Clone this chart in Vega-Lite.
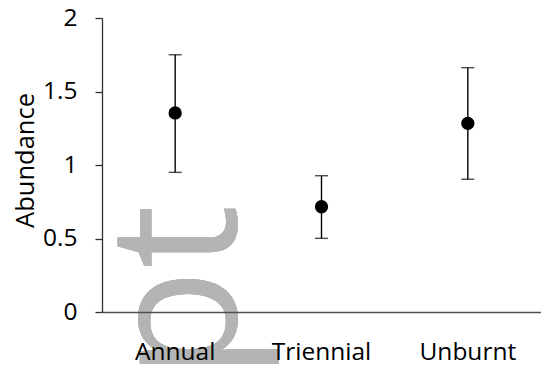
{
  "$schema": "https://vega.github.io/schema/vega-lite/v6.json",
  "autosize": {"type": "none"},
  "width": 439,
  "height": 294,
  "padding": {"left": 102, "top": 18, "right": 0, "bottom": 57},
  "background": "white",
  "config": {
    "view": {"stroke": null},
    "font": "Open Sans",
    "axisX": {
      "domainColor": "#505050",
      "domainWidth": 1.4,
      "ticks": false,
      "tickSize": 0,
      "labelPadding": 28,
      "labelFontSize": 24.5,
      "labelColor": "#000000",
      "labelAngle": 0,
      "labelFont": "Open Sans",
      "grid": false
    },
    "axisY": {
      "domainColor": "#303030",
      "domainWidth": 1.3,
      "tickColor": "#303030",
      "tickWidth": 1.3,
      "tickSize": 7,
      "labelPadding": 18,
      "labelFontSize": 24.5,
      "labelColor": "#000000",
      "labelFont": "Open Sans",
      "titleFont": "Open Sans",
      "titleFontSize": 25.5,
      "titleFontWeight": "normal",
      "titleColor": "#000000",
      "titleAngle": 270,
      "titleBaseline": "alphabetic",
      "titleX": -69,
      "titleY": 142,
      "grid": false
    }
  },
  "data": {
    "values": [
      {"site": "Annual", "mean": 1.354, "lo": 0.95, "hi": 1.75},
      {"site": "Triennial", "mean": 0.716, "lo": 0.501, "hi": 0.927},
      {"site": "Unburnt", "mean": 1.283, "lo": 0.903, "hi": 1.662}
    ]
  },
  "layer": [
    {
      "mark": {
        "type": "text",
        "text": "Manuscript",
        "font": "Open Sans",
        "fontSize": 180,
        "angle": 270,
        "align": "right",
        "baseline": "alphabetic",
        "color": "#b4b4b4"
      },
      "encoding": {
        "x": {"datum": "Annual", "type": "nominal", "bandPosition": 0.916, "axis": {"zindex": 2}},
        "y": {"datum": 0.73, "type": "quantitative", "axis": {"zindex": 2}}
      }
    },
    {
      "mark": {"type": "rule", "color": "#000000", "strokeWidth": 1.4},
      "encoding": {
        "x": {"field": "site", "type": "nominal"},
        "y": {"field": "lo", "type": "quantitative"},
        "y2": {"field": "hi"}
      }
    },
    {
      "mark": {"type": "tick", "color": "#000000", "thickness": 1.4, "size": 13, "orient": "horizontal"},
      "encoding": {
        "x": {"field": "site", "type": "nominal"},
        "y": {"field": "lo", "type": "quantitative"}
      }
    },
    {
      "mark": {"type": "tick", "color": "#000000", "thickness": 1.4, "size": 13, "orient": "horizontal"},
      "encoding": {
        "x": {"field": "site", "type": "nominal"},
        "y": {"field": "hi", "type": "quantitative"}
      }
    },
    {
      "mark": {"type": "circle", "color": "#000000", "opacity": 1, "size": 177},
      "encoding": {
        "x": {
          "field": "site",
          "type": "nominal",
          "sort": ["Annual", "Triennial", "Unburnt"],
          "scale": {"paddingInner": 0, "paddingOuter": 0},
          "title": null,
          "axis": {"zindex": 2}
        },
        "y": {
          "field": "mean",
          "type": "quantitative",
          "scale": {"domain": [0, 2], "nice": false, "zero": true},
          "axis": {"values": [0, 0.5, 1, 1.5, 2], "format": "~g", "zindex": 2},
          "title": "Abundance"
        }
      }
    }
  ]
}
